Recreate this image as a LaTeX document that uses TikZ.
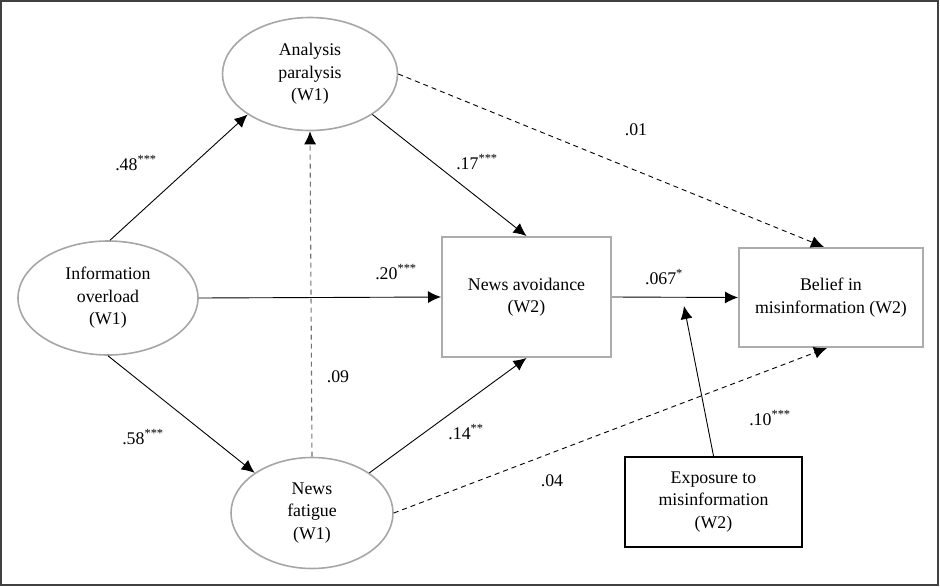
\documentclass[tikz,border=0pt]{standalone}
\usepackage{fontspec}
\setmainfont{Liberation Serif}
\usetikzlibrary{shapes,arrows.meta,calc}
\tikzset{%
  latent/.style    = {draw=gray!70, line width=1.6pt, ellipse, align=center,
    inner sep=0pt}, % W1 constructs
  manifest/.style  = {draw=gray!65, line width=2pt, rectangle, align=center,
    inner sep=0pt}, % W2 outcomes
  moderator/.style = {draw=black, line width=2.2pt, rectangle, align=center,
    inner sep=0pt}, % Moderator
  link/.style      = {line width=0.9pt, -{Latex[length=13pt,width=12pt]}},
  nslink/.style    = {link, dash pattern=on 5pt off 4pt}, % n.s. path
  coef/.style      = {inner sep=0pt} % Path coefficient
}
\newcommand{\sig}[1]{\textsuperscript{#1}}

\begin{document}
\begin{tikzpicture}[x=1pt, y=-1pt, font=\fontsize{17.8}{22.5}\selectfont]
        \useasboundingbox (0,0) rectangle (940,587);
        \draw[black!75, line width=1.2pt] (1,1) rectangle (938,585);
        % constructs
        \node [latent, minimum width=180pt, minimum height=114pt] (io) at (108,298) {Information\\overload\\(W1)};
        \node [latent, minimum width=175pt, minimum height=113pt] (ap) at (310,74) {Analysis\\paralysis\\(W1)};
        \node [latent, minimum width=162pt, minimum height=111pt] (nf) at (312,513) {News\\fatigue\\(W1)};
        \node [manifest, minimum width=169pt, minimum height=120pt] (na) at (526.5,297) {News avoidance\\(W2)};
        \node [manifest, minimum width=184pt, minimum height=99pt] (bm) at (831,297.5) {Belief in\\misinformation (W2)};
        \node [moderator, minimum width=177pt, minimum height=90pt] (ex) at (713.5,502) {Exposure to\\misinformation\\(W2)};
        \coordinate (mod) at (684,306);
        % paths
        \draw[link] (io.88) -- (ap.213);
        \draw[link] (io.south) -- (nf.145);
        \draw[link] (io.east) -- (na.west);
        \draw[link] (ap.-33) -- (na.north);
        \draw[link] (nf.35) -- (na.south);
        \draw[nslink, line width=1.1pt, draw=black!55, -{Latex[length=13pt,width=12pt,color=black]}] (nf.north) -- (ap.south);
        \draw[nslink] (ap.east) -- ($(bm.north)+(-7,0)$);
        \draw[nslink] (nf.east) -- ($(bm.south)+(-4,0)$);
        \draw[link] (na.east) -- (bm.west);
        \draw[link] (ex.north) -- (mod);
        % coefficients
        \node [coef] (b48) at (136,163) {.48\sig{***}};
        \node [coef] (b58) at (143,437) {.58\sig{***}};
        \node [coef] (b17) at (477,162) {.17\sig{***}};
        \node [coef] (b01) at (636,130) {.01};
        \node [coef] (b20) at (396,272) {.20\sig{***}};
        \node [coef] (b067) at (664,277) {.067\sig{*}};
        \node [coef] (b09) at (338,377) {.09};
        \node [coef] (b14) at (466,432) {.14\sig{**}};
        \node [coef] (b04) at (552,481) {.04};
        \node [coef] (b10) at (770,418) {.10\sig{***}};
\end{tikzpicture}
\end{document}
